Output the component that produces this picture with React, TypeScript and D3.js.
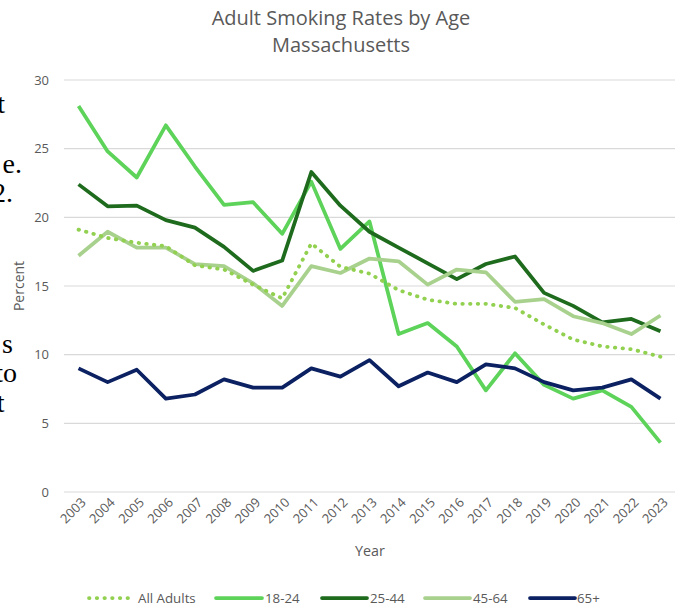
import React from "react";
import * as d3 from "d3";

const years = ["2003","2004","2005","2006","2007","2008","2009","2010","2011","2012","2013","2014","2015","2016","2017","2018","2019","2020","2021","2022","2023"];
const allAdults = [19.1, 18.5, 18.15, 17.9, 16.5, 16.2, 15.1, 14.1, 18.1, 16.4, 15.9, 14.7, 14.0, 13.7, 13.7, 13.4, 12.2, 11.1, 10.6, 10.4, 9.85];
const age18to24 = [28.1, 24.8, 22.9, 26.7, 23.7, 20.9, 21.1, 18.8, 22.6, 17.7, 19.7, 11.5, 12.3, 10.6, 7.4, 10.1, 7.8, 6.8, 7.4, 6.2, 3.6];
const age25to44 = [22.4, 20.8, 20.85, 19.8, 19.25, 17.85, 16.1, 16.85, 23.3, 20.85, 18.95, 17.8, 16.65, 15.5, 16.6, 17.15, 14.5, 13.55, 12.35, 12.6, 11.7];
const age45to64 = [17.2, 18.95, 17.8, 17.8, 16.6, 16.45, 15.2, 13.55, 16.45, 15.95, 17.0, 16.8, 15.1, 16.2, 16.0, 13.85, 14.05, 12.8, 12.3, 11.5, 12.85];
const age65plus = [9.0, 8.0, 8.9, 6.8, 7.1, 8.2, 7.6, 7.6, 9.0, 8.4, 9.6, 7.7, 8.7, 8.0, 9.3, 9.0, 8.0, 7.4, 7.6, 8.2, 6.8];
const yTicks = [0, 5, 10, 15, 20, 25, 30];
const seriesNames = ["All Adults", "18-24", "25-44", "45-64", "65+"];
const seriesColors = ["#92D050", "#5DD35A", "#1E6B1E", "#A9D18E", "#0B2161"];
const titleLines = ["Adult Smoking Rates by Age", "Massachusetts"];
const sideFragments = ["t", "e.", "2.", "s", "to", "t"];

const W = 678, H = 606;
const FONT = "'Open Sans', sans-serif";
const TXT = "#595959";

export default function App() {
  const x = d3.scaleBand<string>().domain(years).range([64, 675]);
  const xc = (yr: string) => (x(yr) as number) + x.bandwidth() / 2;
  const y = d3.scaleLinear().domain([0, 30]).range([492, 80]);
  const line = d3.line<number>().x((_, i) => xc(years[i])).y((v) => y(v));
  const series = [allAdults, age18to24, age25to44, age45to64, age65plus];

  const fragPos = [
    [5, 112.7], [22, 172.5], [13, 201.7], [13, 353], [17, 381.7], [4.5, 411.7],
  ];

  const legendItems = [
    { x0: 89, x1: 133, tx: 138 },
    { x0: 216, x1: 262, tx: 265 },
    { x0: 322, x1: 367, tx: 370 },
    { x0: 425, x1: 470, tx: 473 },
    { x0: 530, x1: 575, tx: 577 },
  ];

  return (
    <svg width={W} height={H} style={{ position: "absolute", left: 0, top: 0, display: "block", background: "#fff" }}>
      {sideFragments.map((t, i) => (
        <text key={"f" + i} x={fragPos[i][0]} y={fragPos[i][1]} textAnchor="end"
          fontFamily="'Liberation Serif', 'Times New Roman', serif" fontSize={28} fill="#000">{t}</text>
      ))}
      {titleLines.map((t, i) => (
        <text key={"t" + i} x={341} y={25 + i * 27} textAnchor="middle" fontFamily={FONT} fontSize={20} fill={TXT}>{t}</text>
      ))}
      {yTicks.map((v) => (
        <g key={"g" + v}>
          <line x1={64} x2={675} y1={y(v)} y2={y(v)} stroke="#D9D9D9" strokeWidth={1.2} />
          <text x={49} y={y(v)} dy="0.35em" textAnchor="end" fontFamily={FONT} fontSize={13} fill={TXT}>{v}</text>
        </g>
      ))}
      {years.map((yr) => (
        <text key={"x" + yr} transform={`translate(${xc(yr) + 5},${500}) rotate(-45)`} textAnchor="end" dy="0.35em"
          fontFamily={FONT} fontSize={13} fill={TXT}>{yr}</text>
      ))}
      <text x={370} y={556} textAnchor="middle" fontFamily={FONT} fontSize={14.3} fill={TXT}>Year</text>
      <text transform={`translate(24,286) rotate(-90)`} textAnchor="middle" fontFamily={FONT} fontSize={14} fill={TXT}>Percent</text>
      {[1, 2, 3, 4, 0].map((si) => (
        <path key={"s" + si} d={line(series[si]) as string} fill="none" stroke={seriesColors[si]}
          strokeWidth={si === 0 ? 3.8 : 3.75} strokeLinejoin="round" strokeLinecap={si === 0 ? "round" : "butt"}
          strokeDasharray={si === 0 ? "0.5 7.2" : undefined} />
      ))}
      {legendItems.map((it, i) => (
        <g key={"l" + i}>
          <line x1={it.x0} x2={it.x1} y1={598} y2={598} stroke={seriesColors[i]} strokeWidth={3.75}
            strokeLinecap="round" strokeDasharray={i === 0 ? "0.5 7.2" : undefined} />
          <text x={it.tx} y={598} dy="0.35em" fontFamily={FONT} fontSize={13.3} fill={TXT}>{seriesNames[i]}</text>
        </g>
      ))}
    </svg>
  );
}
